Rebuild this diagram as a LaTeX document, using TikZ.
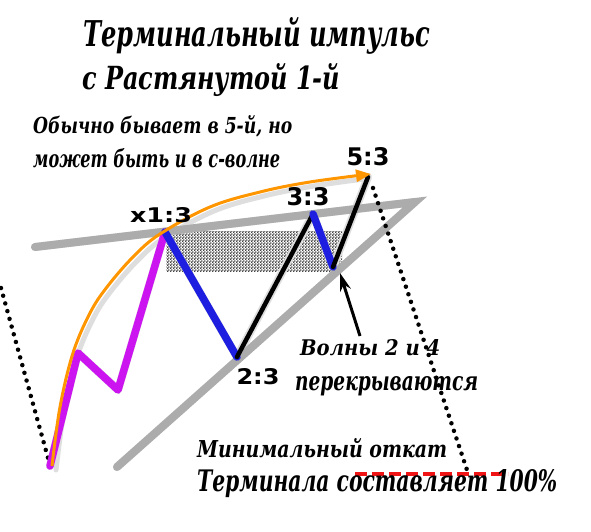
\documentclass[tikz,border=0pt]{standalone}
\usepackage{fontspec}
\setmainfont{DejaVu Serif}
\newfontfamily\labfont{DejaVu Sans}
\usetikzlibrary{patterns,arrows.meta}
\newcommand\fitw[2]{\resizebox{#1}{!}{#2}}
\newcommand\fitwh[3]{\resizebox{#1}{#2}{#3}}
\definecolor{lgray}{RGB}{172,172,172}
\definecolor{wpurple}{RGB}{204,20,240}
\definecolor{wblue}{RGB}{30,30,225}
\definecolor{worange}{RGB}{255,150,0}
\definecolor{wred}{RGB}{240,20,20}
\definecolor{shad}{RGB}{222,222,222}
\pgfdeclarepatternformonly{stipple}{\pgfpoint{-1pt}{-1pt}}{\pgfpoint{2pt}{2pt}}{\pgfpoint{3pt}{3pt}}{%
  \pgfpathcircle{\pgfpoint{0pt}{0pt}}{1pt}\pgfusepath{fill}%
  \pgfpathcircle{\pgfpoint{1.5pt}{1.5pt}}{1pt}\pgfusepath{fill}}
\begin{document}
\begin{tikzpicture}[x=1pt,y=-1pt,
  txt/.style={inner sep=0pt, anchor=base west, font=\bfseries\itshape},
  lab/.style={inner sep=0pt, anchor=base, font=\labfont\bfseries},
  rail/.style={draw=lgray, line width=8pt, line cap=round},
  dotline/.style={line width=4.5pt, dash pattern=on 0pt off 8pt, line cap=round},
  wthick/.style={line width=7.5pt, line join=round, line cap=round},
  wthin/.style={line width=4.5pt, line join=round, line cap=round},
  shadow/.style={draw=shad, line width=8pt, line join=round, line cap=round}]
\useasboundingbox[fill=white] (0,0) rectangle (591,532);
% wave points
\coordinate (w0) at (50,466);
\coordinate (w1) at (78,353);
\coordinate (w2) at (118,390);
\coordinate (w3) at (165,232);
\coordinate (w4) at (237,357);
\coordinate (w5) at (313,214);
\coordinate (w6) at (333,267);
\coordinate (w7) at (368,177);
\coordinate (apex) at (415,202);
\coordinate (ul) at (35,247);
\coordinate (ll) at (117,467);
\coordinate (dl0) at (1,288);
\coordinate (dl1) at (48,458);
\coordinate (dr0) at (373,188);
\coordinate (dr1) at (467,470);
\coordinate (rd0) at (355,474);
\coordinate (rd1) at (508,474);
\coordinate (arrtail) at (360,336);
\coordinate (arrtip) at (340,273);
\coordinate (otip) at (371,174);
% overlap zone
\fill[pattern=stipple, pattern color=black] (166,231) rectangle (342,271);
% shadows
\begin{scope}[shift={(4,4)}]
\draw[shadow] (ul) -- (apex) -- (ll);
\draw[shadow] (w0) -- (w1) -- (w2) -- (w3) -- (w4) -- (w5) -- (w6) -- (w7);
\draw[shadow, line width=5pt] plot[smooth, tension=0.6] coordinates {(52,466) (60,407) (73,353) (90,313) (107,287) (133,257) (160,234) (210,207) (260,192) (310,182) (360,175)};
\end{scope}
% channel lines
\draw[rail] (ul) -- (apex) -- (ll);
% dotted lines
\draw[dotline] (dl0) -- (dl1);
\draw[dotline] (dr0) -- (dr1);
% red dashed
\draw[wred, line width=4.5pt, dash pattern=on 12pt off 5pt] (rd0) -- (rd1);
% waves
\draw[wpurple, wthick] (w0) -- (w1) -- (w2) -- (w3);
\draw[wblue, wthick] (w3) -- (w4);
\draw[black, wthin] (w4) -- (w5);
\draw[wblue, wthick] (w5) -- (w6);
\draw[black, wthin] (w6) -- (w7);
% orange curve
\draw[worange, line width=3pt, -{Triangle[length=15pt,width=12pt]}] plot[smooth, tension=0.6] coordinates {(52,466) (60,407) (73,353) (90,313) (107,287) (133,257) (160,234) (210,207) (260,192) (310,182) (otip)};
% arrow
\draw[line width=3pt, -{Stealth[length=18pt,width=11pt]}] (arrtail) -- (arrtip);
% texts
\node[txt] (t1) at (83,47) {\fitwh{347pt}{29pt}{Терминальный импульс}};
\node[txt] (t2) at (82,90) {\fitwh{258pt}{26pt}{с Растянутой 1-й}};
\node[txt] (n1) at (33,133) {\fitwh{259pt}{18pt}{Обычно бывает в 5-й, но}};
\node[txt] (n2) at (33,167) {\fitwh{247pt}{19pt}{может быть и в с-волне}};
\node[txt] (v1) at (300,355) {\fitwh{140pt}{16pt}{Волны 2 и 4}};
\node[txt] (v2) at (295,390) {\fitwh{183pt}{14pt}{перекрываются}};
\node[txt] (m1) at (197,457) {\fitwh{250pt}{19pt}{Минимальный откат}};
\node[txt] (m2) at (197,491) {\fitwh{360pt}{22pt}{Терминала составляет 100\%}};
% wave labels
\node[lab] (lx1) at (161,222) {\fitwh{62pt}{15pt}{x1:3}};
\node[lab] (l5) at (368,165) {\fitwh{43pt}{18pt}{5:3}};
\node[lab] (l3) at (308,205) {\fitwh{43pt}{18pt}{3:3}};
\node[lab] (l2) at (258,384) {\fitwh{43pt}{16pt}{2:3}};
\end{tikzpicture}
\end{document}
